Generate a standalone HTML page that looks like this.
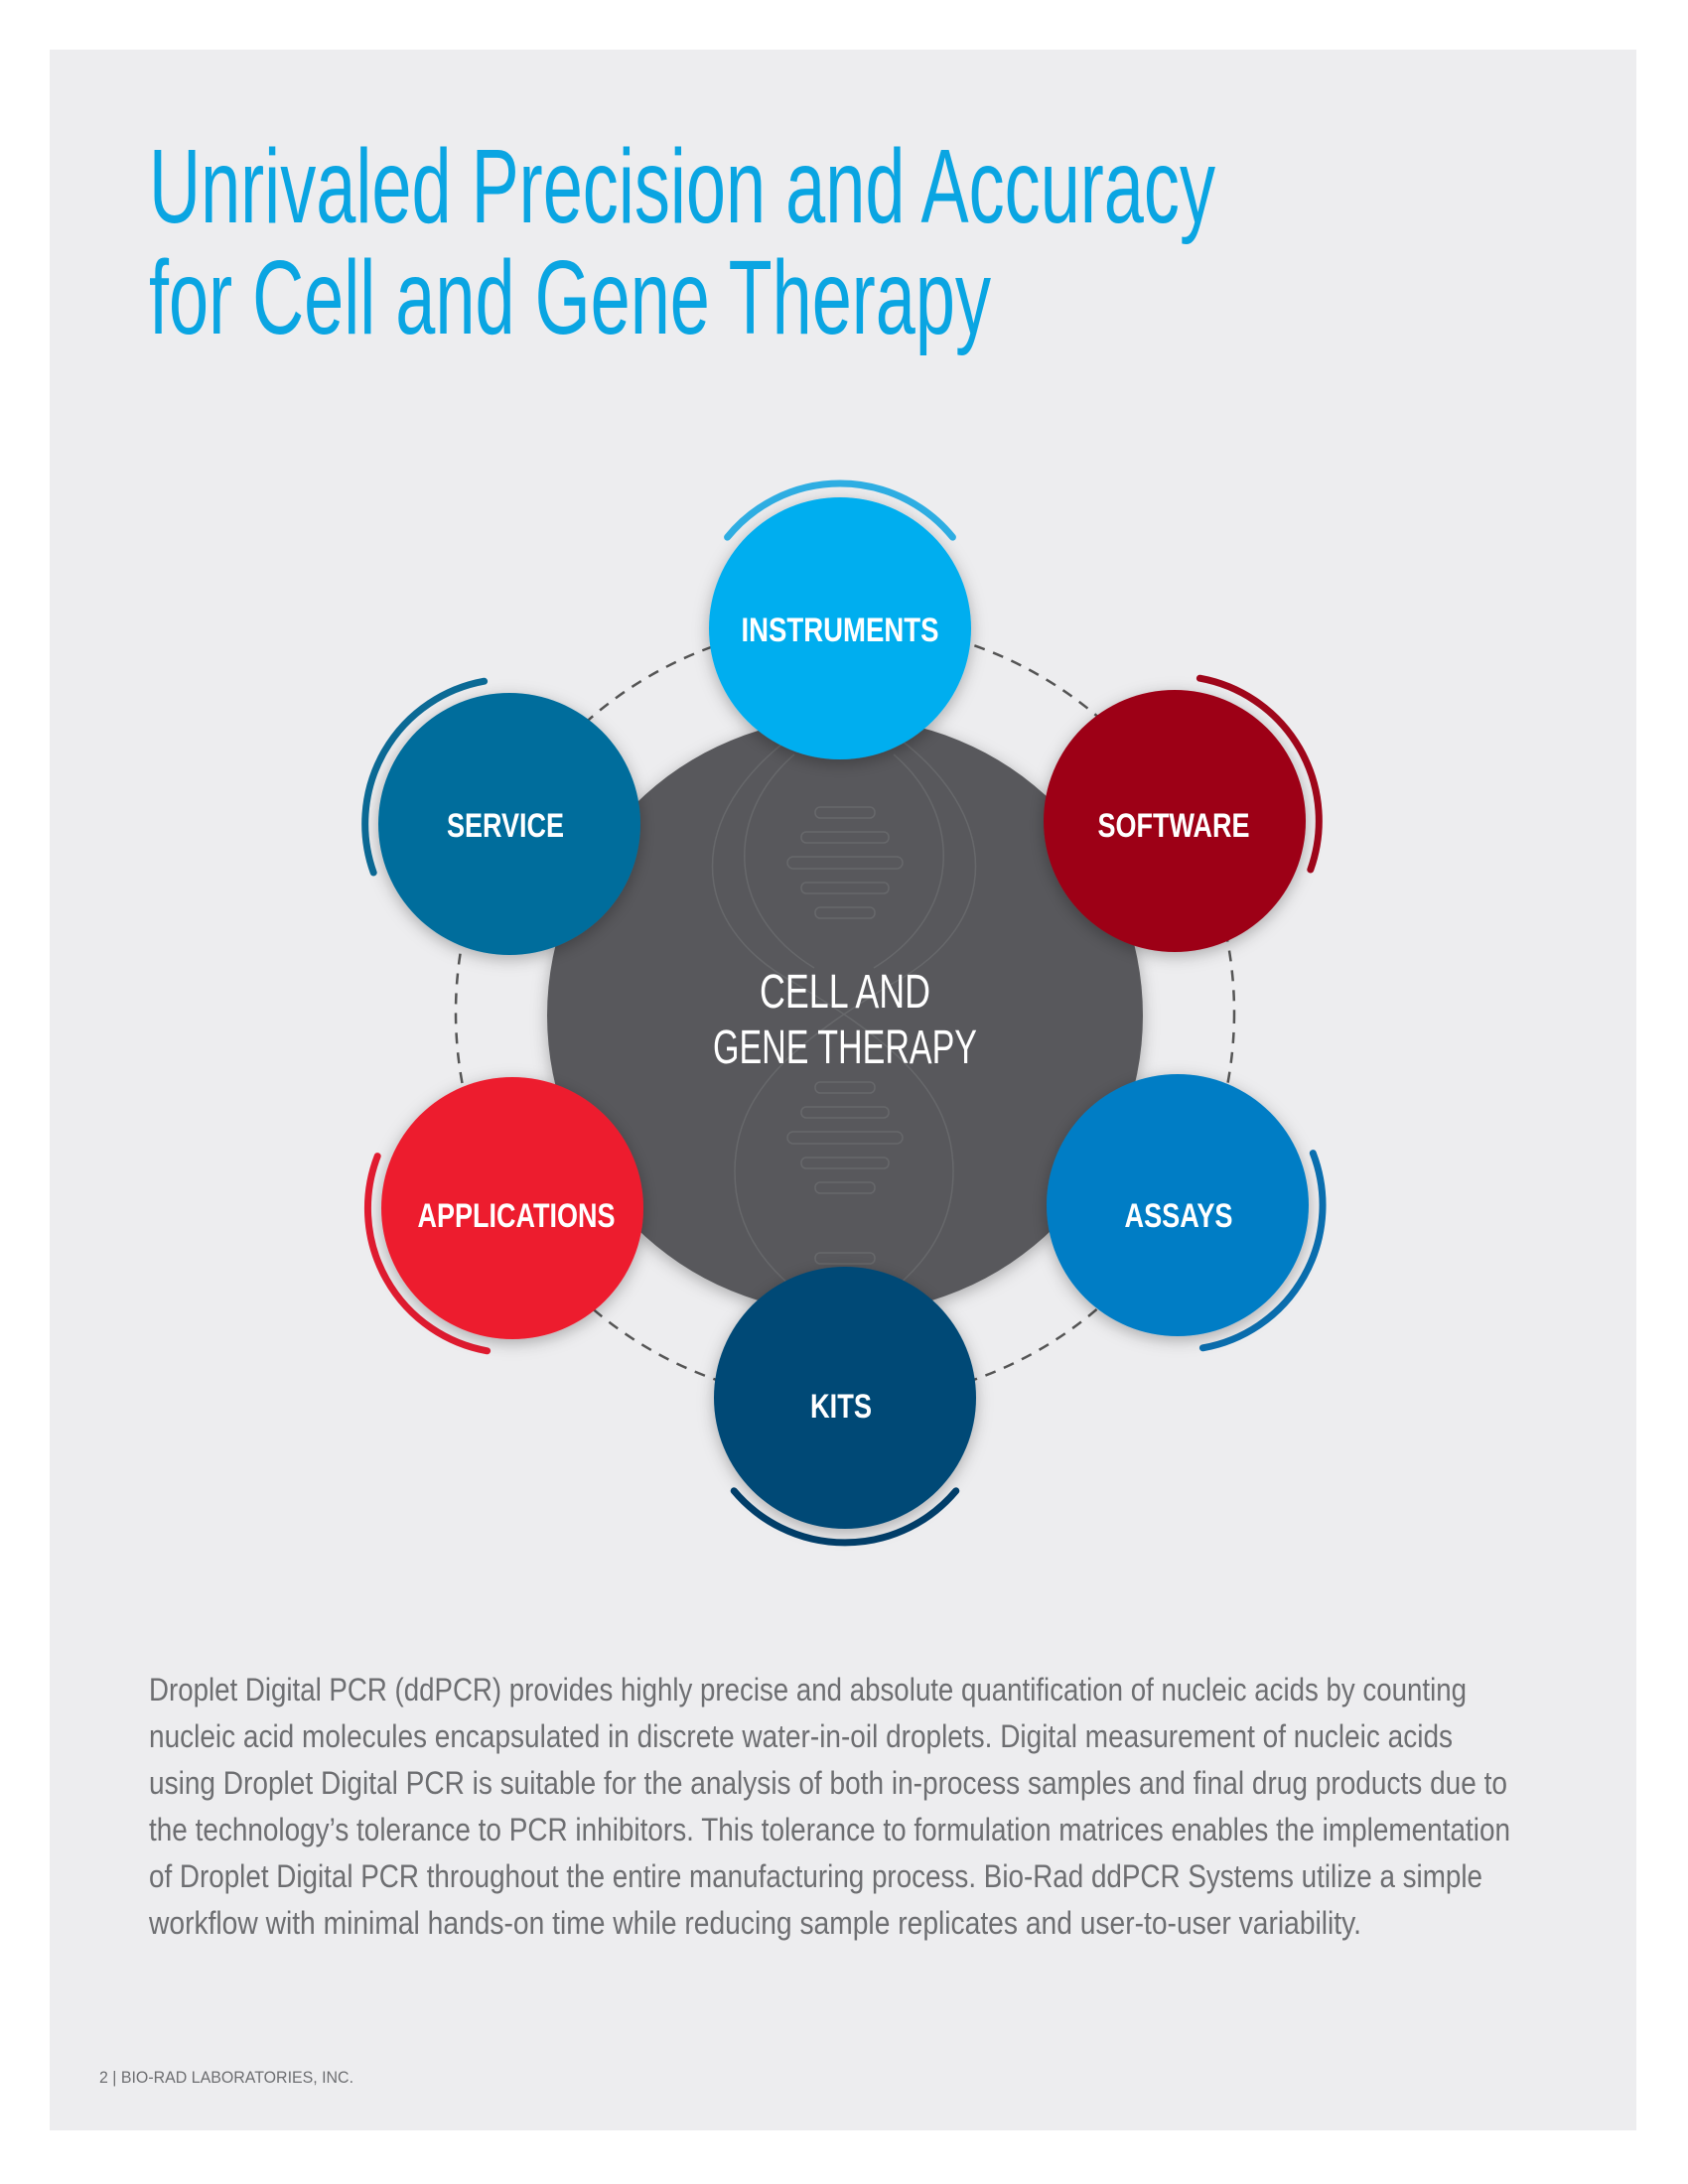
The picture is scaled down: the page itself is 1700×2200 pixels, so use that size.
<!DOCTYPE html>
<html><head><meta charset="utf-8"><style>
html,body{margin:0;padding:0;background:#fff}
svg{display:block}
</style></head><body>
<svg width="1700" height="2200" viewBox="0 0 1700 2200" xmlns="http://www.w3.org/2000/svg">
<defs>
<filter id="sh" x="-30%" y="-30%" width="160%" height="160%">
<feDropShadow dx="0" dy="4" stdDeviation="8" flood-color="#000" flood-opacity="0.28"/>
</filter>
<clipPath id="cc"><circle cx="851" cy="1023" r="300"/></clipPath>
</defs>
<rect x="50" y="50" width="1598" height="2096" fill="#ededef"/>
<g font-family="Liberation Sans, sans-serif">
<text x="150" y="224" font-size="106" fill="#0aa5e2" textLength="1074" lengthAdjust="spacingAndGlyphs">Unrivaled Precision and Accuracy</text>
<text x="150" y="336" font-size="106" fill="#0aa5e2" textLength="848" lengthAdjust="spacingAndGlyphs">for Cell and Gene Therapy</text>

<circle cx="851" cy="1020" r="392" fill="none" stroke="#555" stroke-width="2.5" stroke-dasharray="11 9"/>
<circle cx="851" cy="1023" r="300" fill="#58595b" filter="url(#sh)"/>
<g fill="none" stroke="#67686b" stroke-width="1.5" clip-path="url(#cc)">
<path d="M900 740 C1010 820 1010 930 900 990 C800 1050 740 1100 740 1180 C740 1260 800 1300 830 1320"/>
<path d="M800 740 C690 820 690 930 800 990 C900 1050 960 1100 960 1180 C960 1260 900 1300 870 1320"/>
<path d="M900 760 C970 820 970 920 880 975"/>
<path d="M800 760 C730 820 730 920 820 975"/>
<rect x="821" y="813" width="60" height="11" rx="5"/>
<rect x="807" y="838" width="88" height="11" rx="5"/>
<rect x="793" y="863" width="116" height="12" rx="6"/>
<rect x="807" y="889" width="88" height="11" rx="5"/>
<rect x="821" y="914" width="60" height="11" rx="5"/>
<rect x="821" y="1090" width="60" height="11" rx="5"/>
<rect x="807" y="1115" width="88" height="11" rx="5"/>
<rect x="793" y="1140" width="116" height="12" rx="6"/>
<rect x="807" y="1166" width="88" height="11" rx="5"/>
<rect x="821" y="1191" width="60" height="11" rx="5"/>
<rect x="821" y="1262" width="60" height="11" rx="5"/>
</g>
<text x="851" y="1015" font-size="48" fill="#fff" text-anchor="middle" textLength="172" lengthAdjust="spacingAndGlyphs">CELL AND</text>
<text x="851" y="1071" font-size="48" fill="#fff" text-anchor="middle" textLength="266" lengthAdjust="spacingAndGlyphs">GENE THERAPY</text>

<g fill="none" stroke-width="7" stroke-linecap="round">
<path d="M 732.6 541.1 A 146 146 0 0 1 959.4 541.1" stroke="#2eaee3"/>
<path d="M 487.6 686.2 A 146 146 0 0 0 376.2 879.0" stroke="#0b6a96"/>
<path d="M 1208.4 683.2 A 146 146 0 0 1 1319.8 876.0" stroke="#a0061a"/>
<path d="M 380.2 1164.6 A 146 146 0 0 0 490.6 1360.8" stroke="#e21b30"/>
<path d="M 1322.3 1161.6 A 146 146 0 0 1 1211.4 1357.8" stroke="#0a6fb0"/>
<path d="M 739.2 1501.8 A 146 146 0 0 0 962.8 1501.8" stroke="#013f6b"/>
</g>

<g filter="url(#sh)">
<circle cx="846" cy="633" r="132" fill="#03aeef"/>
<circle cx="513" cy="830" r="132" fill="#006d9c"/>
<circle cx="1183" cy="827" r="132" fill="#9d0515"/>
<circle cx="516" cy="1217" r="132" fill="#ed1c2e"/>
<circle cx="1186" cy="1214" r="132" fill="#007dc5"/>
<circle cx="851" cy="1408" r="132" fill="#004876"/>
</g>
<g font-size="34" font-weight="bold" fill="#fff" text-anchor="middle">
<text x="846" y="646" textLength="199" lengthAdjust="spacingAndGlyphs">INSTRUMENTS</text>
<text x="509" y="843" textLength="118" lengthAdjust="spacingAndGlyphs">SERVICE</text>
<text x="1182" y="843" textLength="153" lengthAdjust="spacingAndGlyphs">SOFTWARE</text>
<text x="520" y="1236" textLength="199" lengthAdjust="spacingAndGlyphs">APPLICATIONS</text>
<text x="1187" y="1236" textLength="109" lengthAdjust="spacingAndGlyphs">ASSAYS</text>
<text x="847" y="1428" textLength="62" lengthAdjust="spacingAndGlyphs">KITS</text>
</g>

<g font-size="32" fill="#6d6e71">
<text x="150" y="1713" textLength="1327" lengthAdjust="spacingAndGlyphs">Droplet Digital PCR (ddPCR) provides highly precise and absolute quantification of nucleic acids by counting</text>
<text x="150" y="1760" textLength="1313" lengthAdjust="spacingAndGlyphs">nucleic acid molecules encapsulated in discrete water-in-oil droplets. Digital measurement of nucleic acids</text>
<text x="150" y="1807" textLength="1368" lengthAdjust="spacingAndGlyphs">using Droplet Digital PCR is suitable for the analysis of both in-process samples and final drug products due to</text>
<text x="150" y="1854" textLength="1371" lengthAdjust="spacingAndGlyphs">the technology’s tolerance to PCR inhibitors. This tolerance to formulation matrices enables the implementation</text>
<text x="150" y="1901" textLength="1343" lengthAdjust="spacingAndGlyphs">of Droplet Digital PCR throughout the entire manufacturing process. Bio-Rad ddPCR Systems utilize a simple</text>
<text x="150" y="1948" textLength="1221" lengthAdjust="spacingAndGlyphs">workflow with minimal hands-on time while reducing sample replicates and user-to-user variability.</text>
</g>
<text x="100" y="2098" font-size="17" fill="#6d6e71" textLength="256" lengthAdjust="spacingAndGlyphs">2  |  BIO-RAD LABORATORIES, INC.</text>
</g>
</svg>
</body></html>
